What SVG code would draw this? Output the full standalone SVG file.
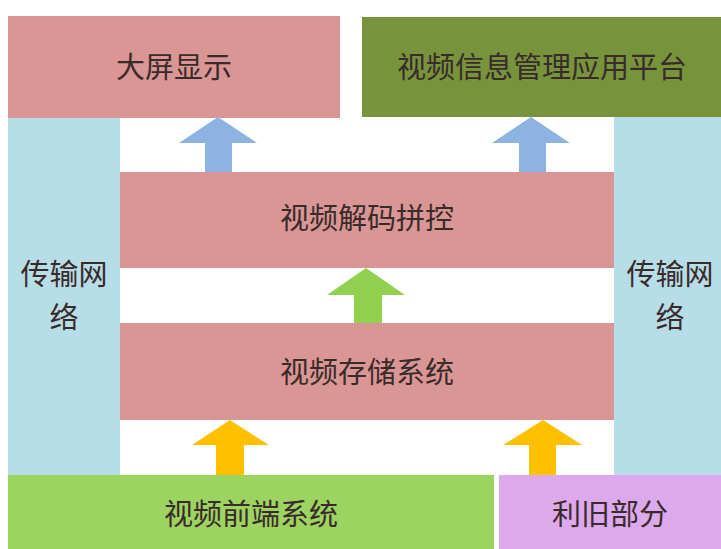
<svg xmlns="http://www.w3.org/2000/svg" width="721" height="549" viewBox="0 0 721 549">
<style>
.t{font-family:"Noto Sans CJK SC","Noto Sans",sans-serif;font-size:29px;fill:#3a2b2b;text-anchor:middle}
.pink{fill:#D99694}
.lb{fill:#B7DEE8}
</style>
<rect width="721" height="549" fill="#ffffff"/>
<g id="net-left"><rect class="lb" x="8" y="117" width="112" height="358"/><text class="t" x="64" y="285">传输网</text><text class="t" x="64" y="328">络</text></g>
<g id="net-right"><rect class="lb" x="614" y="117" width="107" height="358"/><text class="t" x="670" y="285">传输网</text><text class="t" x="670" y="328">络</text></g>
<g id="bigscreen"><rect class="pink" x="8" y="16" width="332" height="102"/><text class="t" x="174" y="78">大屏显示</text></g>
<g id="platform"><rect x="362" y="17" width="359" height="100" fill="#77933C"/><text class="t" x="542" y="78">视频信息管理应用平台</text></g>
<g id="decode"><rect class="pink" x="120" y="172" width="494" height="96"/><text class="t" x="367" y="229">视频解码拼控</text></g>
<g id="storage"><rect class="pink" x="120" y="323" width="494" height="97"/><text class="t" x="367" y="383">视频存储系统</text></g>
<g id="frontend"><rect x="8" y="475" width="486" height="74" fill="#9DD360"/><text class="t" x="251" y="525">视频前端系统</text></g>
<g id="legacy"><rect x="499" y="475" width="222" height="74" fill="#DCA9EC"/><text class="t" x="610" y="525">利旧部分</text></g>
<g id="connectors">
<polygon fill="#8DB3E2" points="205,172 205,143 179,143 218,117 257,143 232,143 232,172"/>
<polygon fill="#8DB3E2" points="519,172 519,143 492,143 531,117 570,143 546,143 546,172"/>
<polygon fill="#92D050" points="354,323 354,295 327,295 366,268 405,295 382,295 382,323"/>
<polygon fill="#FFC000" points="216,475 216,445 192,445 230,420 269,445 244,445 244,475"/>
<polygon fill="#FFC000" points="529,475 529,445 503,445 543,420 582,445 556,445 556,475"/>
</g>
</svg>
